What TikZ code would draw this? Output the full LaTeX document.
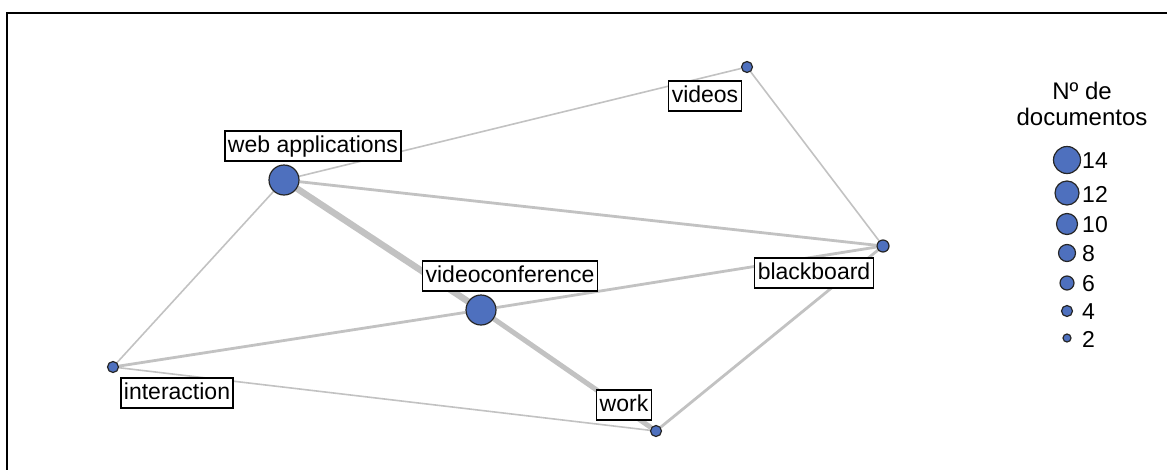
\documentclass[tikz,border=0pt]{standalone}
\usepackage{fontspec}
\setmainfont{Liberation Sans}
\usetikzlibrary{backgrounds}
\definecolor{nodeblue}{HTML}{4E70BE}
\definecolor{edgegray}{HTML}{C2C2C2}
\tikzset{
  kw/.style={circle, draw=black!85, line width=1.2pt, fill=nodeblue, inner sep=0pt, minimum size=#1},
  lbl/.style={draw=black, line width=1.2pt, fill=white, font=\fontsize{23}{26}\selectfont, inner xsep=3pt, inner ysep=4pt, text height=17pt, text depth=5pt},
  thin edge/.style={draw=edgegray, line width=1.6pt},
  mid edge/.style={draw=edgegray, line width=2.8pt},
  thick edge/.style={draw=edgegray, line width=6.5pt},
  legtxt/.style={font=\fontsize{23}{26}\selectfont, anchor=west, inner sep=0pt},
}
\begin{document}
\begin{tikzpicture}[x=1pt, y=-1pt]
\useasboundingbox (0,0) rectangle (1167,469);
\begin{scope}
\clip (0,0) rectangle (1167,469);
\draw[black, line width=2.2pt] (7,13) rectangle (1200,500);
\end{scope}
% keyword nodes
\node[kw=30pt] (web) at (284,180) {};
\node[kw=30pt] (vc) at (481,310) {};
\node[kw=11pt] (vid) at (747,67) {};
\node[kw=12pt] (bb) at (883,246) {};
\node[kw=11pt] (int) at (113,367) {};
\node[kw=11pt] (wk) at (656,431) {};
% edges
\begin{scope}[on background layer]
\draw[thin edge] (web) -- (vid);
\draw[mid edge] (web) -- (bb);
\draw[thick edge] (web) -- (vc);
\draw[thin edge] (web) -- (int);
\draw[thin edge] (vid) -- (bb);
\draw[mid edge] (vc) -- (bb);
\draw[mid edge] (vc) -- (int);
\draw[line width=5pt, edgegray] (vc) -- (wk);
\draw[thin edge] (int) -- (wk);
\draw[mid edge] (wk) -- (bb);
\end{scope}
% labels
\node[lbl] (lweb) at (313,146) {web applications};
\node[lbl] (lvc) at (510,276) {videoconference};
\node[lbl] (lvid) at (705,96) {videos};
\node[lbl] (lbb) at (814,273) {blackboard};
\node[lbl] (lint) at (177,393) {interaction};
\node[lbl] (lwk) at (624,405) {work};
% legend
\node[font=\fontsize{24}{26}\selectfont, align=center, inner sep=0pt] (legt) at (1082,104) {Nº de\\documentos};
\node[kw=27pt] (l14) at (1067,160) {};
\node[kw=24pt] (l12) at (1067,193) {};
\node[kw=21pt] (l10) at (1067,224) {};
\node[kw=17pt] (l8) at (1067,253) {};
\node[kw=14pt] (l6) at (1067,283) {};
\node[kw=11pt] (l4) at (1067,311) {};
\node[kw=8pt] (l2) at (1067,338) {};
\node[legtxt] (t14) at (1082,161) {14};
\node[legtxt] (t12) at (1082,194) {12};
\node[legtxt] (t10) at (1082,225) {10};
\node[legtxt] (t8) at (1082,254) {8};
\node[legtxt] (t6) at (1082,284) {6};
\node[legtxt] (t4) at (1082,312) {4};
\node[legtxt] (t2) at (1082,339) {2};
\end{tikzpicture}
\end{document}
